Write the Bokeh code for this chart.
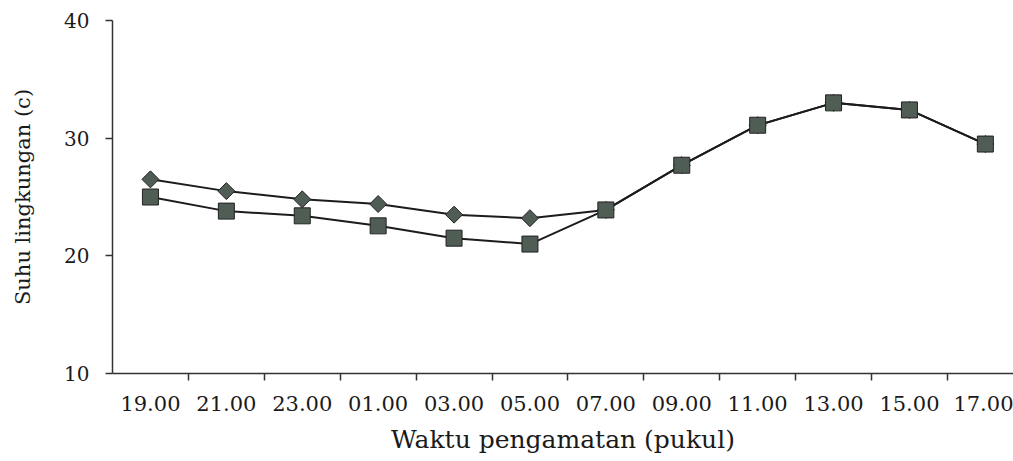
import math
from bokeh.plotting import figure
from bokeh.models import Range1d, FixedTicker, ColumnDataSource
from bokeh.embed import file_html
from bokeh.resources import INLINE

# ---- data ----
times = ["19.00", "21.00", "23.00", "01.00", "03.00", "05.00",
         "07.00", "09.00", "11.00", "13.00", "15.00", "17.00"]
series_diamond = [26.5, 25.5, 24.8, 24.4, 23.5, 23.2,
                  23.9, 27.7, 31.1, 33.0, 32.4, 29.5]
series_square = [25.0, 23.8, 23.4, 22.55, 21.5, 21.0,
                 23.9, 27.7, 31.1, 33.0, 32.4, 29.5]
y_ticks = [10, 20, 30, 40]

xs = list(range(len(times)))
src_d = ColumnDataSource(dict(x=xs, y=series_diamond))
src_s = ColumnDataSource(dict(x=xs, y=series_square))

p = figure(width=1013, height=461, output_backend="svg", toolbar_location=None,
           x_range=Range1d(-0.5, -0.5 + 901 / 75.9), y_range=Range1d(10, 40),
           min_border_left=112, min_border_top=20, min_border_bottom=88,
           min_border_right=0)
p.outline_line_color = None
p.xgrid.visible = False
p.ygrid.visible = False
p.background_fill_color = "white"
p.border_fill_color = "white"

line_col = "#1c1c1c"
mk_fill = "#4f5d54"

p.line("x", "y", source=src_d, line_color=line_col, line_width=2)
p.line("x", "y", source=src_s, line_color=line_col, line_width=2)
p.scatter("x", "y", source=src_d, marker="square", angle=math.pi / 4, size=12,
          fill_color=mk_fill, line_color="#222222", line_width=1)
p.scatter("x", "y", source=src_s, marker="square", size=16,
          fill_color=mk_fill, line_color="#222222", line_width=1)

# x axis
xa = p.xaxis[0]
xa.ticker = FixedTicker(ticks=xs, minor_ticks=[i + 0.5 for i in xs[:-1]])
xa.major_label_overrides = {i: t for i, t in zip(xs, times)}
xa.major_tick_line_color = None
xa.major_tick_out = 7
xa.minor_tick_in = 0
xa.minor_tick_out = 7
xa.minor_tick_line_color = "#333333"
xa.minor_tick_line_width = 1.5
xa.axis_line_color = "#333333"
xa.axis_line_width = 1.5
xa.major_label_text_font = "DejaVu Serif"
xa.major_label_text_font_size = "21px"
xa.major_label_text_color = "#1a1a1a"
xa.major_label_standoff = 15
xa.axis_label = "Waktu pengamatan (pukul)"
xa.axis_label_text_font = "DejaVu Serif"
xa.axis_label_text_font_size = "25px"
xa.axis_label_text_font_style = "normal"
xa.axis_label_text_color = "#1a1a1a"
xa.axis_label_standoff = 11

# y axis
ya = p.yaxis[0]
ya.ticker = FixedTicker(ticks=y_ticks)
ya.minor_tick_line_color = None
ya.major_tick_in = 0
ya.major_tick_out = 7
ya.major_tick_line_color = "#333333"
ya.major_tick_line_width = 1.5
ya.axis_line_color = "#333333"
ya.axis_line_width = 1.5
ya.major_label_text_font = "DejaVu Serif"
ya.major_label_text_font_size = "20px"
ya.major_label_text_color = "#1a1a1a"
ya.major_label_standoff = 16
ya.axis_label = "Suhu lingkungan (c)"
ya.axis_label_text_font = "DejaVu Serif"
ya.axis_label_text_font_size = "21px"
ya.axis_label_text_font_style = "normal"
ya.axis_label_text_color = "#1a1a1a"
ya.axis_label_standoff = 26

open("out.html", "w").write(file_html(p, INLINE))
